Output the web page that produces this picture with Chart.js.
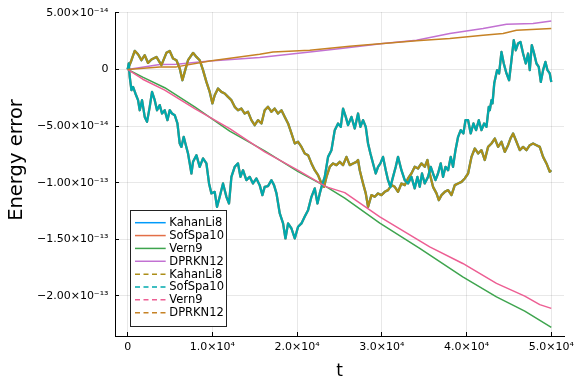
<!DOCTYPE html>
<html>
<head>
<meta charset="utf-8">
<script src="https://cdn.jsdelivr.net/npm/chart.js@4"></script>
<style>
  html, body { margin: 0; padding: 0; background: #ffffff; }
  #wrap { width: 576px; height: 384px; }
</style>
</head>
<body>
<div id="wrap"><canvas id="c" width="576" height="384"></canvas></div>
<script>
// ---- data (t, energy error in units of 1e-14) ----
const seriesNames = ['KahanLi8', 'SofSpa10', 'Vern9', 'DPRKN12', 'KahanLi8', 'SofSpa10', 'Vern9', 'DPRKN12'];

const kahanLi8 = [[0,0],[440,0.82],[830,1.64],[1220,1.35],[1620,0.82],[2010,1.26],[2400,0.58],[2800,0.88],[3390,1.11],[3980,0.38],[4570,1.47],[4960,1.64],[5350,0.97],[5750,0.82],[6140,0.09],[6460,-0.95],[6730,-0.21],[7120,0.82],[7710,1.47],[8110,1.11],[8500,0.82],[8890,-0.06],[9290,-1.1],[9680,-1.98],[10000,-3.0],[10270,-2.27],[10660,-1.68],[11060,-1.98],[11450,-2.12],[11840,-2.42],[12240,-2.71],[12630,-3.3],[13020,-3.6],[13420,-3.45],[13810,-3.89],[14200,-3.74],[14600,-4.48],[14990,-4.92],[15380,-4.48],[15790,-4.77],[16170,-3.6],[16560,-3.3],[16970,-3.74],[17350,-3.45],[17740,-3.89],[18150,-3.6],[18540,-4.19],[18930,-4.77],[19330,-5.65],[19720,-6.54],[20110,-6.39],[20510,-6.84],[20900,-7.42],[21290,-7.57],[21690,-8.3],[22080,-8.9],[22470,-9.34],[22870,-10.07],[23180,-10.37],[23460,-9.49],[23850,-8.6],[24240,-8.3],[24640,-8.45],[25030,-8.16],[25420,-8.45],[25820,-7.72],[26210,-8.45],[26600,-8.3],[27000,-8.16],[27190,-8.0],[27390,-8.9],[27780,-10.07],[28100,-10.95],[28370,-12.14],[28770,-11.1],[29160,-11.25],[29550,-10.95],[29950,-11.1],[30340,-10.81],[30730,-10.66],[31130,-10.22],[31520,-10.37],[31910,-10.81],[32310,-10.07],[32700,-10.22],[33090,-9.63],[33490,-9.19],[33880,-8.6],[34270,-8.75],[34670,-8.3],[35060,-8.6],[35380,-8.0],[35650,-9.19],[36040,-10.37],[36450,-10.95],[36720,-11.55],[37040,-11.1],[37430,-10.81],[37820,-10.66],[38220,-11.1],[38610,-10.22],[39000,-10.07],[39400,-9.93],[39790,-9.63],[40180,-9.19],[40580,-7.72],[40970,-6.98],[41360,-7.42],[41760,-7.13],[42150,-8.0],[42540,-6.84],[42940,-6.54],[43330,-6.1],[43720,-6.84],[44120,-6.39],[44510,-7.28],[44900,-6.69],[45180,-6.1],[45490,-5.65],[45890,-6.39],[46280,-7.13],[46670,-6.84],[47070,-7.13],[47460,-6.69],[47850,-6.54],[48250,-6.69],[48640,-6.84],[49030,-7.72],[49430,-8.3],[49820,-9.04],[50000,-8.9]];

const sofSpa10 = [[0,0],[120,0.53],[240,-0.65],[440,-1.83],[630,-1.54],[910,-2.12],[1220,-2.71],[1420,-3.6],[1690,-2.71],[2010,-4.19],[2280,-4.63],[2600,-3.3],[2870,-1.98],[3190,-2.71],[3460,-3.6],[3780,-3.15],[4050,-3.89],[4370,-3.6],[4690,-4.48],[4960,-3.6],[5230,-3.89],[5550,-4.04],[5870,-4.77],[6140,-6.54],[6340,-6.84],[6610,-5.95],[6810,-6.54],[7120,-7.42],[7320,-8.3],[7520,-9.19],[7710,-8.16],[8110,-7.57],[8500,-8.6],[8890,-7.86],[9290,-8.3],[9600,-10.07],[9880,-10.95],[10270,-10.81],[10540,-12.14],[10860,-11.25],[11250,-10.07],[11650,-11.25],[11960,-11.84],[12240,-9.49],[12630,-8.6],[13020,-8.3],[13310,-9.49],[13610,-8.9],[14010,-9.78],[14400,-9.49],[14790,-10.07],[15190,-9.63],[15580,-10.22],[15900,-11.1],[16170,-10.37],[16560,-10.3],[16970,-9.78],[17270,-10.22],[17560,-10.95],[17950,-12.72],[18340,-13.6],[18620,-14.93],[18930,-13.6],[19330,-14.05],[19720,-14.93],[20110,-13.9],[20510,-13.6],[20900,-13.0],[21290,-12.43],[21690,-11.25],[22080,-10.51],[22400,-11.84],[22670,-10.95],[22940,-10.22],[23260,-9.49],[23650,-7.72],[24050,-7.13],[24440,-5.36],[24830,-4.77],[25150,-5.07],[25420,-3.45],[25740,-4.19],[26010,-4.92],[26410,-4.19],[26800,-5.21],[27190,-3.89],[27470,-5.07],[27780,-4.48],[28100,-5.07],[28370,-6.54],[28650,-7.42],[28960,-8.3],[29280,-9.19],[29550,-8.6],[29830,-8.3],[30140,-7.72],[30460,-8.9],[30730,-9.78],[31010,-10.37],[31320,-9.49],[31640,-8.6],[31910,-7.72],[32310,-8.9],[32700,-9.78],[33090,-10.07],[33490,-9.49],[33880,-10.5],[34200,-9.49],[34470,-10.37],[34740,-9.19],[35060,-10.07],[35450,-9.49],[35770,-8.6],[36040,-9.19],[36330,-9.78],[36630,-9.19],[36950,-8.3],[37220,-9.49],[37510,-8.6],[37820,-8.9],[38130,-7.72],[38400,-8.6],[38690,-7.13],[39000,-5.95],[39310,-5.36],[39630,-5.65],[39870,-4.48],[40180,-4.48],[40490,-5.65],[40810,-4.77],[41120,-5.36],[41440,-4.48],[41760,-5.36],[42070,-4.77],[42350,-5.07],[42620,-3.3],[42740,-3.6],[42940,-2.71],[43060,-3.0],[43270,-1.2],[43600,-0.06],[43840,-0.35],[44120,1.55],[44390,0.53],[44710,-0.35],[45020,-0.95],[45300,0.82],[45570,2.59],[45810,1.7],[46080,2.3],[46360,2.44],[46670,1.41],[46990,0.53],[47260,1.41],[47460,-0.06],[47700,2.15],[47930,1.55],[48250,0.53],[48520,0.23],[48760,-1.1],[49030,-0.06],[49310,0.67],[49550,-0.06],[49820,-0.35],[50000,-1.1]];

const vern9 = [[0,0],[1770,-0.68],[4370,-1.61],[7910,-3.3],[12040,-5.45],[16170,-7.2],[20070,-9.0],[23460,-10.37],[25620,-11.37],[29760,-13.58],[34470,-15.8],[39550,-18.32],[43530,-20.09],[46870,-21.35],[50000,-22.79]];

const vern9b = [[0,0],[1770,-0.86],[4370,-1.83],[7910,-3.45],[12040,-5.23],[16170,-7.28],[20070,-8.9],[23460,-10.37],[25620,-10.88],[29760,-13.02],[35650,-15.67],[39550,-17.14],[43530,-18.9],[46870,-20.03],[48640,-20.78],[50000,-21.11]];

const dprkn12 = [[0,0],[3780,0.44],[5750,0.47],[9680,0.76],[15580,1.06],[21490,1.55],[25420,1.88],[30140,2.3],[34080,2.59],[38020,3.18],[41950,3.62],[44710,4.0],[47850,4.06],[50000,4.29]];

const dprkn12b = [[0,0],[3780,0.23],[5750,0.23],[9680,0.76],[15580,1.35],[17150,1.55],[21490,1.7],[26210,2.06],[30140,2.3],[34080,2.53],[38020,2.74],[41950,3.03],[44310,3.18],[45890,3.47],[50000,3.62]];

const xTickValues = [0, 10000, 20000, 30000, 40000, 50000];
const xTickLabels = ['0', '1.0×10⁴', '2.0×10⁴', '3.0×10⁴', '4.0×10⁴', '5.0×10⁴'];
const yTickValues = [-20, -15, -10, -5, 0, 5];
const yTickLabels = ['−2.00×10⁻¹³', '−1.50×10⁻¹³', '−1.00×10⁻¹³', '−5.00×10⁻¹⁴', '0', '5.00×10⁻¹⁴'];
const xTitle = 't';
const yTitle = 'Energy error';

// ---- styling ----
const colors = ['#009AFA', '#E36F47', '#3EA44E', '#C271D2', '#AC8E18', '#00A9AD', '#ED5E93', '#C68225'];
const seriesData = [kahanLi8, sofSpa10, vern9, dprkn12, kahanLi8, sofSpa10, vern9b, dprkn12b];
const FONT = '"DejaVu Sans", Arial, sans-serif';

const datasets = seriesData.map((d, i) => ({
  label: seriesNames[i],
  data: d.map(p => ({ x: p[0], y: p[1] })),
  borderColor: colors[i],
  backgroundColor: colors[i],
  borderWidth: (i === 0 || i === 1 || i === 4 || i === 5) ? 2.3 : 1.5,
  borderJoinStyle: 'round',
  pointRadius: 0,
  tension: 0,
  fill: false,
  order: seriesData.length - i,
  legendDash: i >= 4 ? [5, 3.5] : []
}));

// legend box inside the plot and the y-axis title (drawn on the canvas)
const frameLegend = {
  id: 'frameLegend',
  afterDatasetsDraw(chart) {
    const { ctx, chartArea } = chart;
    const w = 96, h = 116, rowH = 12.86;
    const x0 = Math.round(chartArea.left + 15);
    const y0 = Math.round(chartArea.bottom - 10 - h);
    ctx.save();
    ctx.fillStyle = '#ffffff';
    ctx.fillRect(x0, y0, w, h);
    ctx.strokeStyle = '#222222';
    ctx.lineWidth = 1;
    ctx.setLineDash([]);
    ctx.strokeRect(x0 + 0.5, y0 + 0.5, w, h);
    ctx.font = '11.5px ' + FONT;
    ctx.textBaseline = 'middle';
    ctx.textAlign = 'left';
    chart.data.datasets.forEach((ds, i) => {
      const cy = y0 + 12.7 + i * rowH;
      ctx.strokeStyle = ds.borderColor;
      ctx.lineWidth = 1.5;
      ctx.setLineDash(ds.legendDash);
      ctx.beginPath();
      ctx.moveTo(x0 + 5, cy);
      ctx.lineTo(x0 + 35.7, cy);
      ctx.stroke();
      ctx.setLineDash([]);
      ctx.fillStyle = '#000000';
      ctx.fillText(ds.label, x0 + 39.3, cy + 0.5);
    });
    // y-axis title
    ctx.translate(16.5, chartArea.top + 148);
    ctx.rotate(-Math.PI / 2);
    ctx.font = '19.5px ' + FONT;
    ctx.textAlign = 'center';
    ctx.textBaseline = 'middle';
    ctx.fillStyle = '#000000';
    ctx.fillText(yTitle, 0, 0);
    ctx.restore();
  }
};

new Chart(document.getElementById('c'), {
  type: 'line',
  data: { datasets },
  plugins: [frameLegend],
  options: {
    responsive: false,
    animation: false,
    events: [],
    layout: { padding: { top: 12, right: 12, left: 0, bottom: 0 } },
    plugins: { legend: { display: false }, tooltip: { enabled: false } },
    scales: {
      x: {
        type: 'linear',
        min: -1500,
        max: 51500,
        afterBuildTicks: s => { s.ticks = xTickValues.map(v => ({ value: v })); },
        afterFit: s => { s.height = 48; s.paddingLeft = 0; s.paddingRight = 0; },
        ticks: {
          callback: (v, i) => xTickLabels[i],
          font: { family: FONT, size: 11 },
          color: '#000000',
          padding: 9,
          maxRotation: 0,
          autoSkip: false
        },
        grid: { color: 'rgba(0,0,0,0.09)', tickLength: -4, tickColor: '#000000', lineWidth: 1 },
        border: { display: true, color: '#000000', width: 1 },
        title: { display: true, text: xTitle, font: { family: FONT, size: 17 }, color: '#000000', padding: { top: 0, bottom: 2 } }
      },
      y: {
        type: 'linear',
        min: -23.55,
        max: 5.08,
        afterBuildTicks: s => { s.ticks = yTickValues.map(v => ({ value: v })); },
        afterFit: s => { s.width = 115; s.paddingTop = 0; s.paddingBottom = 0; },
        ticks: {
          callback: (v, i) => yTickLabels[i],
          font: { family: FONT, size: 11 },
          color: '#000000',
          padding: 10.5,
          autoSkip: false
        },
        grid: { color: 'rgba(0,0,0,0.09)', tickLength: -4, tickColor: '#000000', lineWidth: 1 },
        border: { display: true, color: '#000000', width: 1 },
        title: { display: false }
      }
    }
  }
});
</script>
</body>
</html>
